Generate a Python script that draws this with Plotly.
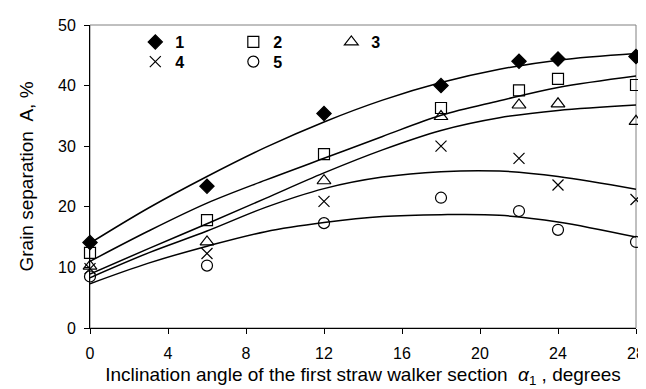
import plotly.graph_objects as go

# measured points
angles = [0, 6, 12, 18, 22, 24, 28]
s1 = [14.1, 23.4, 35.4, 40.0, 44.0, 44.4, 44.8]
s2 = [12.4, 17.8, 28.7, 36.3, 39.2, 41.1, 40.1]
s3 = [10.2, 14.2, 24.3, 34.9, 36.8, 37.0, 34.1]
s4 = [9.8, 12.3, 20.9, 30.0, 28.0, 23.6, 21.2]
s5 = [8.5, 10.3, 17.3, 21.5, 19.3, 16.2, 14.2]

# trend curves
trend_x = [0, 3, 6, 9, 12, 15, 18, 21, 24, 28]
t1 = [14.0, 19.8, 25.0, 29.8, 34.0, 37.6, 40.5, 42.7, 44.2, 45.3]
t2 = [11.0, 16.0, 20.6, 24.4, 28.0, 31.6, 35.1, 37.5, 39.7, 41.6]
t3 = [8.9, 13.1, 17.2, 21.4, 25.6, 29.4, 32.6, 34.7, 35.9, 36.8]
t4 = [8.3, 12.4, 16.0, 19.9, 23.0, 24.9, 25.8, 25.9, 25.0, 22.9]
t5 = [7.3, 10.7, 13.5, 15.9, 17.4, 18.4, 18.7, 18.6, 17.5, 15.0]

names = ["1", "2", "3", "4", "5"]
x_ticks = [0, 4, 8, 12, 16, 20, 24, 28]
y_ticks = [0, 10, 20, 30, 40, 50]

series = [s1, s2, s3, s4, s5]
trends = [t1, t2, t3, t4, t5]
symbols = ["diamond", "square-open", "triangle-up-open", "x-thin-open", "circle-open"]
sizes = [11, 11, 12, 11, 11]
legends = ["legend", "legend", "legend", "legend2", "legend2"]

fig = go.Figure()
for ts in trends:
    fig.add_trace(go.Scatter(x=trend_x, y=ts, mode="lines", line_shape="spline",
                             line=dict(color="black", width=1.5, smoothing=1.0),
                             showlegend=False, hoverinfo="skip"))
for ys, nm, sym, sz, lg in zip(series, names, symbols, sizes, legends):
    fig.add_trace(go.Scatter(x=angles, y=ys, mode="markers", name="<b>" + nm + "</b>",
                             legend=lg, cliponaxis=False,
                             marker=dict(symbol=sym, size=sz, color="black",
                                         line=dict(color="black", width=1.2))))

W, H = 646, 389
L, R, T, B = 82, 9, 17, 69
leg_common = dict(orientation="h", xanchor="left", yanchor="top",
                  entrywidth=53, entrywidthmode="pixels", bgcolor="rgba(0,0,0,0)",
                  font=dict(size=16), itemwidth=30, traceorder="normal")
fig.update_layout(
    width=W, height=H,
    margin=dict(l=L, r=R, t=T, b=B),
    paper_bgcolor="white", plot_bgcolor="white",
    font=dict(family="Liberation Sans, Arial, sans-serif", size=16, color="black"),
    legend=dict(x=0.083, y=1.0, **leg_common),
    legend2=dict(x=0.083, y=0.935, **leg_common),
    shapes=[dict(type="rect", xref="paper", yref="paper", x0=0, x1=1, y0=0, y1=1,
                 line=dict(color="#808080", width=1), layer="below")],
)
fig.update_xaxes(range=[0, 28], tickvals=x_ticks, ticks="outside", ticklen=5,
                 tickcolor="black", showline=True, linecolor="black", linewidth=1,
                 showgrid=False, zeroline=False, tickfont=dict(size=16),
                 ticklabelstandoff=6,
                 title=dict(text="Inclination angle of the first straw walker section\u00a0 <i>α</i><sub>1</sub> , degrees",
                            font=dict(size=19), standoff=6))
fig.update_yaxes(range=[0, 50], tickvals=y_ticks, ticks="outside", ticklen=5,
                 tickcolor="black", showline=True, linecolor="black", linewidth=1,
                 showgrid=False, zeroline=False, tickfont=dict(size=16),
                 ticklabelstandoff=5,
                 title=dict(text="Grain separation\u00a0 A, %", font=dict(size=19), standoff=19))
fig.write_html("out.html")
